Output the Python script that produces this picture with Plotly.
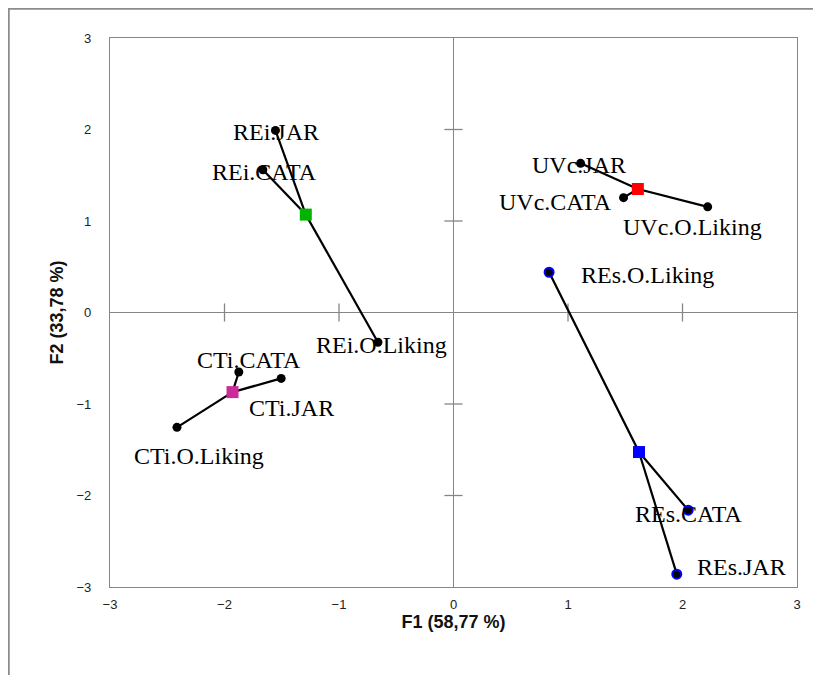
import plotly.graph_objects as go

# ---- data ----
groups = ["REi", "UVc", "REs", "CTi"]
centroid_x = [-1.29, 1.61, 1.62, -1.93]
centroid_y = [1.07, 1.35, -1.525, -0.87]
centroid_colors = ["#00B400", "#FF0000", "#0000FF", "#CC2A99"]

partial_labels = [
    ["REi.JAR", "REi.CATA", "REi.O.Liking"],
    ["UVc.JAR", "UVc.CATA", "UVc.O.Liking"],
    ["REs.JAR", "REs.CATA", "REs.O.Liking"],
    ["CTi.JAR", "CTi.CATA", "CTi.O.Liking"],
]
partial_x = [
    [-1.555, -1.665, -0.66],
    [1.11, 1.485, 2.22],
    [1.95, 2.05, 0.835],
    [-1.505, -1.875, -2.415],
]
partial_y = [
    [1.99, 1.56, -0.325],
    [1.63, 1.255, 1.155],
    [-2.86, -2.16, 0.44],
    [-0.72, -0.65, -1.255],
]
partial_outline = ["black", "black", "blue", "black"]

# label offsets in pixels (xshift, yshift)
label_shift = [
    [(1, -2), (2, -2), (4, -3)],
    [(-2, -2), (-68, -4), (-15, -20)],
    [(65, 7), (0, -4), (98, -3)],
    [(10, -30), (10, 12), (22, -29)],
]

tick_vals = [-3, -2, -1, 0, 1, 2, 3]
x_title = "F1 (58,77 %)"
y_title = "F2 (33,78 %)"

# page body has an 8px margin: figure origin sits at (8, 8)
OFF = 8
W, H = 805, 683 - 2 * OFF
PL, PR, PT, PB = 110, 797, 38, 587  # plot-area edges in page pixels

fig = go.Figure()

# zero-line cross tick marks
cross = [v for v in tick_vals if v not in (0, -3, 3)]
fig.add_trace(go.Scatter(x=cross, y=[0] * len(cross), mode="markers",
                         marker=dict(symbol="line-ns", size=13, line=dict(color="#868686", width=1.3)),
                         hoverinfo="skip", showlegend=False))
fig.add_trace(go.Scatter(x=[0] * len(cross), y=cross, mode="markers",
                         marker=dict(symbol="line-ew", size=13, line=dict(color="#868686", width=1.3)),
                         hoverinfo="skip", showlegend=False))

annotations = []
for g in range(len(groups)):
    lx, ly = [], []
    for px, py in zip(partial_x[g], partial_y[g]):
        lx += [centroid_x[g], px, None]
        ly += [centroid_y[g], py, None]
    fig.add_trace(go.Scatter(x=lx, y=ly, mode="lines",
                             line=dict(color="black", width=2.2),
                             hoverinfo="skip", showlegend=False))
    fig.add_trace(go.Scatter(x=partial_x[g], y=partial_y[g], mode="markers",
                             marker=dict(symbol="circle", size=9, color="black",
                                         line=dict(color=partial_outline[g],
                                                   width=2 if partial_outline[g] != "black" else 0)),
                             text=partial_labels[g], showlegend=False))
    fig.add_trace(go.Scatter(x=[centroid_x[g]], y=[centroid_y[g]], mode="markers",
                             marker=dict(symbol="square", size=12, color=centroid_colors[g]),
                             name=groups[g], showlegend=False))
    for lab, px, py, (dx, dy) in zip(partial_labels[g], partial_x[g], partial_y[g], label_shift[g]):
        annotations.append(dict(x=px, y=py, xref="x", yref="y", text=lab, showarrow=False,
                                xshift=dx, yshift=dy, xanchor="center", yanchor="middle",
                                font=dict(family="Liberation Serif", size=24, color="black")))

pw, ph = PR - PL, PB - PT
frame = [dict(type="rect", xref="paper", yref="paper",
              x0=(8.5 - PL) / pw, x1=(840 - PL) / pw,
              y0=-(720 - PB) / ph, y1=1 + (PT - 8.5) / ph,
              line=dict(color="#8C8C8C", width=2.5), fillcolor="rgba(0,0,0,0)",
              layer="below")]

axis_common = dict(range=[-3, 3], tickvals=tick_vals, showgrid=False,
                   zeroline=True, zerolinecolor="#868686", zerolinewidth=1.3,
                   showline=True, linecolor="#868686", linewidth=1.3, mirror=True,
                   ticks="", tickfont=dict(family="Liberation Sans", size=13, color="#222"))

fig.update_layout(
    width=W, height=H,
    margin=dict(l=PL - OFF, r=W - (PR - OFF), t=PT - OFF, b=H - (PB - OFF)),
    paper_bgcolor="white", plot_bgcolor="white",
    xaxis=dict(**axis_common, ticklabelstandoff=5,
               title=dict(text=x_title, standoff=0,
                          font=dict(family="Liberation Sans", size=18, color="#111", weight="bold"))),
    yaxis=dict(**axis_common, ticklabelstandoff=15,
               title=dict(text=y_title, standoff=8,
                          font=dict(family="Liberation Sans", size=18, color="#111", weight="bold"))),
    annotations=annotations,
    shapes=frame,
)

fig.write_html("out.html")
